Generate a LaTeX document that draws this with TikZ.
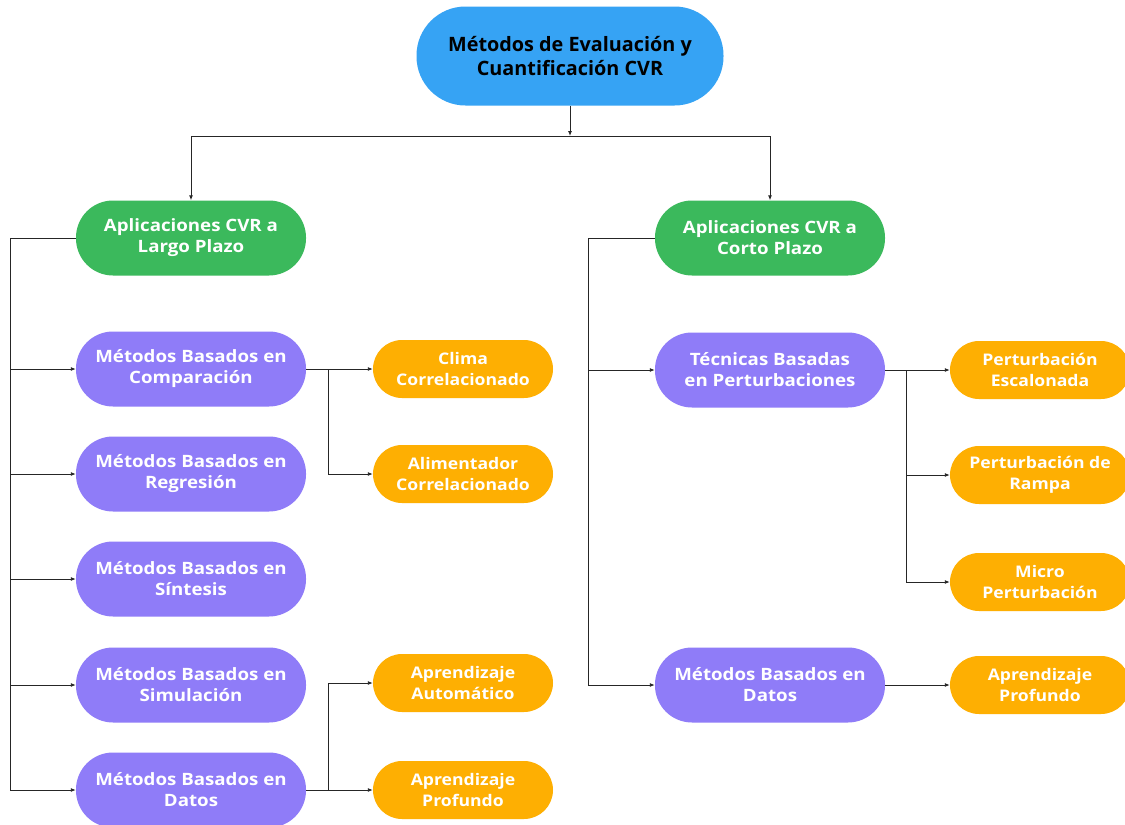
\documentclass[tikz,border=0pt]{standalone}
\usepackage{fontspec}
\setmainfont{Open Sans}
\newfontfamily\widefont{Open Sans}[FakeStretch=1.1]
\usetikzlibrary{arrows.meta}
\definecolor{cblue}{HTML}{36A3F4}
\definecolor{cgreen}{HTML}{3BB95C}
\definecolor{cpurple}{HTML}{8F7CF8}
\definecolor{corange}{HTML}{FEAF02}
\tikzset{
  base/.style={rectangle, align=center, font=\widefont\bfseries\fontsize{17}{21}\selectfont, text=white, inner sep=0pt},
  rootbox/.style={base, fill=cblue, minimum width=307pt, minimum height=99pt, rounded corners=49pt, text=black, font=\bfseries\fontsize{19.8}{24}\selectfont},
  greenbox/.style={base, fill=cgreen, minimum width=230pt, minimum height=75pt, rounded corners=37pt},
  purplebox/.style={base, fill=cpurple, minimum width=230pt, minimum height=75pt, rounded corners=37pt},
  orangebox/.style={base, fill=corange, minimum width=180pt, minimum height=58pt, rounded corners=29pt, font=\widefont\bfseries\fontsize{16}{21}\selectfont},
  conn/.style={draw=black!85, line width=0.9pt, -{Latex[length=5pt,width=4pt]}},
  plain/.style={draw=black!85, line width=0.9pt},
}
\begin{document}
\begin{tikzpicture}[x=1pt,y=-1pt]
\path[use as bounding box] (0,0) rectangle (1125,825);
\clip (0,0) rectangle (1125,825);
\fill[white] (0,0) rectangle (1125,825);
% nodes
\node[rootbox] (root) at (570,56) {Métodos de Evaluación y\\Cuantificación CVR};
\node[greenbox] (gl) at (191,238) {Aplicaciones CVR a\\Largo Plazo};
\node[greenbox] (gr) at (770,238) {Aplicaciones CVR a\\Corto Plazo};
\node[purplebox] (p1) at (191,369) {Métodos Basados en\\Comparación};
\node[purplebox] (p2) at (191,474) {Métodos Basados en\\Regresión};
\node[purplebox] (p3) at (191,579) {Métodos Basados en\\Síntesis};
\node[purplebox] (p4) at (191,685) {Métodos Basados en\\Simulación};
\node[purplebox] (p5) at (191,790) {Métodos Basados en\\Datos};
\node[orangebox] (o1) at (463,369) {Clima\\Correlacionado};
\node[orangebox] (o2) at (463,474) {Alimentador\\Correlacionado};
\node[orangebox] (o3) at (463,683) {Aprendizaje\\Automático};
\node[orangebox] (o4) at (463,790) {Aprendizaje\\Profundo};
\node[purplebox] (q1) at (770,370) {Técnicas Basadas\\en Perturbaciones};
\node[purplebox] (q2) at (770,685) {Métodos Basados en\\Datos};
\node[orangebox] (r1) at (1040,370) {Perturbación\\Escalonada};
\node[orangebox] (r2) at (1040,475) {Perturbación de\\Rampa};
\node[orangebox] (r3) at (1040,582) {Micro\\Perturbación};
\node[orangebox] (r4) at (1040,685) {Aprendizaje\\Profundo};
% coordinates
\coordinate (top) at (570,136);
\coordinate (lt) at (10,238);
\coordinate (rt) at (588,238);
\coordinate (b1) at (328,369);
\coordinate (b5) at (328,790);
\coordinate (rb) at (906,370);
% root connectors
\draw[conn] (root.south) -- (top);
\draw[conn] (top) -| (gl.north);
\draw[conn] (top) -| (gr.north);
% left trunk
\draw[plain] (gl.west) -- (lt) -- (lt |- p5.west);
\foreach \n in {p1,p2,p3,p4,p5} \draw[conn] (lt |- \n.west) -- (\n.west);
% right trunk
\draw[plain] (gr.west) -- (rt) -- (rt |- q2.west);
\foreach \n in {q1,q2} \draw[conn] (rt |- \n.west) -- (\n.west);
% left branches
\draw[plain] (p1.east) -- (b1) -- (b1 |- o2.west);
\draw[conn] (b1) -- (o1.west);
\draw[conn] (b1 |- o2.west) -- (o2.west);
\draw[plain] (p5.east) -- (b5) -- (b5 |- o3.west);
\draw[conn] (b5) -- (o4.west);
\draw[conn] (b5 |- o3.west) -- (o3.west);
% right branches
\draw[plain] (q1.east) -- (rb) -- (rb |- r3.west);
\draw[conn] (rb) -- (r1.west);
\draw[conn] (rb |- r2.west) -- (r2.west);
\draw[conn] (rb |- r3.west) -- (r3.west);
\draw[conn] (q2.east) -- (r4.west);
\end{tikzpicture}
\end{document}
